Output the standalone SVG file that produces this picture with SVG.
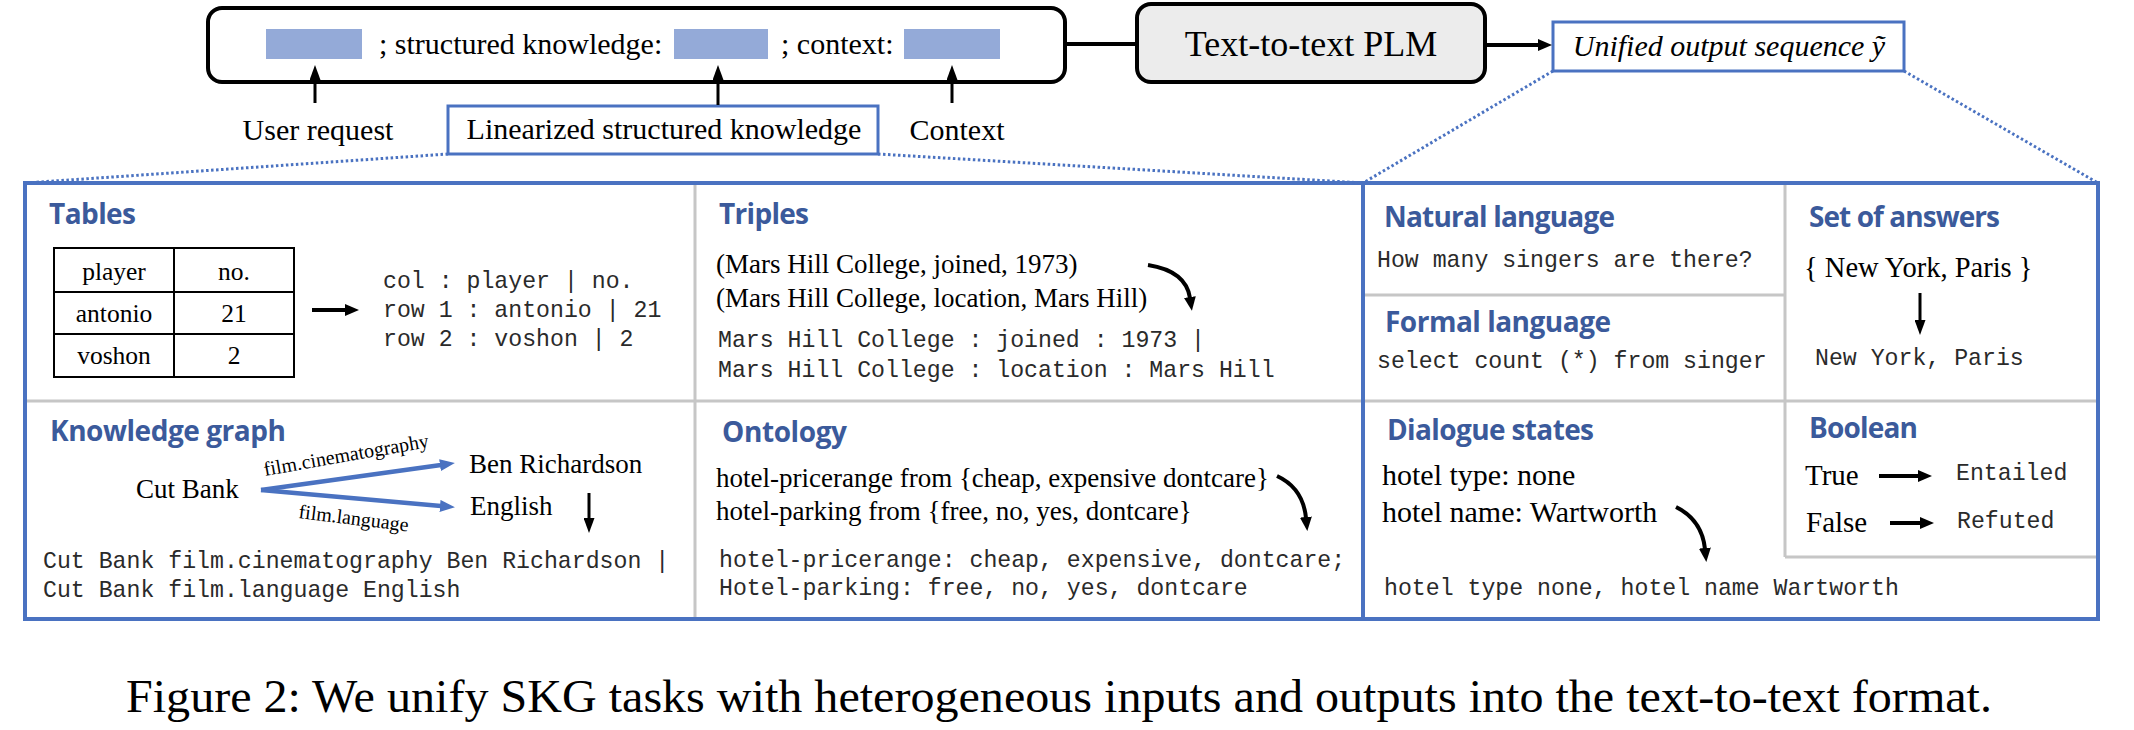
<svg xmlns="http://www.w3.org/2000/svg" width="2134" height="730" viewBox="0 0 2134 730">
<style>
.s{font-family:"Liberation Serif","Times New Roman",serif;fill:#000}
.m{font-family:"Liberation Mono","Courier New",monospace;font-size:23.2px;fill:#2a2a2a}
.h{font-family:"Open Sans","Noto Sans",sans-serif;font-weight:700;font-size:28px;fill:#3b5a9b}
.blk{stroke:#000;stroke-width:4;fill:none}
.thin{stroke:#000;stroke-width:3;fill:none}
.dot{stroke:#4a72c1;stroke-width:3;stroke-dasharray:2.5 2.5;fill:none}
.gray{stroke:#c6c6c6;stroke-width:3;fill:none}
.blue{stroke:#4a72c1;stroke-width:4;fill:none}
.sq{fill:#94aad8}
</style>
<defs>
<marker id="ah" viewBox="0 0 14 12" markerWidth="14" markerHeight="12" refX="1" refY="6" orient="auto" markerUnits="userSpaceOnUse"><path d="M0,0 L14,6 L0,12 z" fill="#000"/></marker>
<marker id="ahs" viewBox="0 0 15 11" markerWidth="15" markerHeight="11" refX="1" refY="5.5" orient="auto" markerUnits="userSpaceOnUse"><path d="M0,0 L15,5.5 L0,11 z" fill="#000"/></marker>
<marker id="ahb" viewBox="0 0 15 12" markerWidth="15" markerHeight="12" refX="1" refY="6" orient="auto" markerUnits="userSpaceOnUse"><path d="M0,0 L15,6 L0,12 z" fill="#4a72c1"/></marker>
</defs>
<rect width="2134" height="730" fill="#fff"/>

<g id="input-template">
<rect x="208" y="8" width="857" height="74" rx="14" fill="#fff" stroke="#000" stroke-width="4"/>
<rect class="sq" x="266" y="29" width="96" height="30"/>
<text class="s" x="379" y="54" font-size="30">; structured knowledge:</text>
<rect class="sq" x="674" y="29" width="94" height="30"/>
<text class="s" x="781" y="54" font-size="30">; context:</text>
<rect class="sq" x="904" y="29" width="96" height="30"/>
</g>

<g id="plm">
<rect x="1137" y="4" width="348" height="78" rx="14" fill="#ececec" stroke="#000" stroke-width="4"/>
<text class="s" x="1311" y="56" font-size="36" text-anchor="middle">Text-to-text PLM</text>
</g>

<g id="unified-output">
<rect x="1553" y="22" width="351" height="49" fill="#fff" stroke="#4a72c1" stroke-width="3"/>
<text class="s" x="1729" y="56" font-size="30" font-style="italic" text-anchor="middle">Unified output sequence ỹ</text>
</g>

<g id="user-request"><text class="s" x="318" y="140" font-size="30" text-anchor="middle">User request</text></g>
<g id="linearized">
<rect x="448" y="106" width="430" height="48" fill="#fff" stroke="#4a72c1" stroke-width="3"/>
<text class="s" x="664" y="139" font-size="30" text-anchor="middle">Linearized structured knowledge</text>
</g>
<g id="context"><text class="s" x="957" y="140" font-size="30" text-anchor="middle">Context</text></g>

<g id="panel">
<rect x="25" y="183" width="2073" height="436" fill="#fff" stroke="#4a72c1" stroke-width="4"/>
<line class="gray" x1="695" y1="185" x2="695" y2="617"/>
<line class="gray" x1="27" y1="401" x2="1361" y2="401"/>
<line class="gray" x1="1785" y1="185" x2="1785" y2="557"/>
<line class="gray" x1="1365" y1="295" x2="1785" y2="295"/>
<line class="gray" x1="1365" y1="401" x2="2096" y2="401"/>
<line class="gray" x1="1785" y1="557" x2="2096" y2="557"/>
<line class="blue" x1="1363" y1="183" x2="1363" y2="619"/>
</g>

<g id="tables">
<text class="h" x="49" y="224" textLength="87">Tables</text>
<rect x="54" y="248" width="240" height="129" fill="none" stroke="#000" stroke-width="2"/>
<line x1="174" y1="248" x2="174" y2="377" stroke="#000" stroke-width="2"/>
<line x1="54" y1="292" x2="294" y2="292" stroke="#000" stroke-width="2"/>
<line x1="54" y1="334" x2="294" y2="334" stroke="#000" stroke-width="2"/>
<text class="s" font-size="25.5" text-anchor="middle"><tspan x="114" y="280">player</tspan><tspan x="234" y="280">no.</tspan><tspan x="114" y="322">antonio</tspan><tspan x="234" y="322">21</tspan><tspan x="114" y="364">voshon</tspan><tspan x="234" y="364">2</tspan></text>
<text class="m"><tspan x="383" y="288">col : player | no.</tspan><tspan x="383" y="317">row 1 : antonio | 21</tspan><tspan x="383" y="346">row 2 : voshon | 2</tspan></text>
</g>

<g id="triples">
<text class="h" x="719" y="224" textLength="90">Triples</text>
<text class="s" font-size="27"><tspan x="716" y="273">(Mars Hill College, joined, 1973)</tspan><tspan x="716" y="307">(Mars Hill College, location, Mars Hill)</tspan></text>
<text class="m"><tspan x="718" y="347">Mars Hill College : joined : 1973 |</tspan><tspan x="718" y="377">Mars Hill College : location : Mars Hill</tspan></text>
</g>

<g id="knowledge-graph">
<text class="h" x="50" y="441" textLength="236">Knowledge graph</text>
<text class="s" x="136" y="498" font-size="27">Cut Bank</text>
<text class="s" x="265" y="476" font-size="20" transform="rotate(-10 265 476)">film.cinematography</text>
<text class="s" x="298" y="518" font-size="20" transform="rotate(7 298 518)">film.language</text>
<text class="s" x="469" y="473" font-size="27">Ben Richardson</text>
<text class="s" x="470" y="515" font-size="27">English</text>
<text class="m"><tspan x="43" y="568">Cut Bank film.cinematography Ben Richardson |</tspan><tspan x="43" y="597">Cut Bank film.language English</tspan></text>
</g>

<g id="ontology">
<text class="h" x="722" y="442" textLength="125">Ontology</text>
<text class="s" font-size="27"><tspan x="716" y="487">hotel-pricerange from {cheap, expensive dontcare}</tspan><tspan x="716" y="520">hotel-parking from {free, no, yes, dontcare}</tspan></text>
<text class="m"><tspan x="719" y="567">hotel-pricerange: cheap, expensive, dontcare;</tspan><tspan x="719" y="595">Hotel-parking: free, no, yes, dontcare</tspan></text>
</g>

<g id="natural-language">
<text class="h" x="1384" y="227" textLength="231">Natural language</text>
<text class="m" x="1377" y="267">How many singers are there?</text>
</g>

<g id="formal-language">
<text class="h" x="1385" y="332" textLength="226">Formal language</text>
<text class="m" x="1377" y="368">select count (*) from singer</text>
</g>

<g id="set-of-answers">
<text class="h" x="1809" y="227" textLength="191">Set of answers</text>
<text class="s" x="1804" y="277" font-size="28.5">{ New York, Paris }</text>
<text class="m" x="1815" y="365">New York, Paris</text>
</g>

<g id="dialogue-states">
<text class="h" x="1387" y="440" textLength="207">Dialogue states</text>
<text class="s" font-size="30"><tspan x="1382" y="485">hotel type: none</tspan><tspan x="1382" y="522">hotel name: Wartworth</tspan></text>
<text class="m" x="1384" y="595">hotel type none, hotel name Wartworth</text>
</g>

<g id="boolean">
<text class="h" x="1809" y="438" textLength="109">Boolean</text>
<text class="s" x="1805" y="485" font-size="29">True</text>
<text class="s" x="1806" y="532" font-size="29">False</text>
<text class="m" x="1956" y="480">Entailed</text>
<text class="m" x="1957" y="528">Refuted</text>
</g>

<g id="caption">
<text class="s" x="126" y="712" font-size="47" textLength="1866" lengthAdjust="spacingAndGlyphs">Figure 2: We unify SKG tasks with heterogeneous inputs and outputs into the text-to-text format.</text>
</g>

<g id="connectors">
<line class="thin" x1="315" y1="103" x2="315" y2="79" marker-end="url(#ahs)"/>
<line class="thin" x1="718" y1="105" x2="718" y2="79" marker-end="url(#ahs)"/>
<line class="thin" x1="952" y1="103" x2="952" y2="79" marker-end="url(#ahs)"/>
<line class="blk" x1="1065" y1="44" x2="1137" y2="44"/>
<line class="blk" x1="1485" y1="45" x2="1539" y2="45" marker-end="url(#ah)"/>
<line class="dot" x1="448" y1="154" x2="25" y2="183"/>
<line class="dot" x1="878" y1="154" x2="1363" y2="183"/>
<line class="dot" x1="1553" y1="71" x2="1363" y2="183"/>
<line class="dot" x1="1904" y1="71" x2="2098" y2="183"/>
<line class="blk" x1="312" y1="310" x2="346" y2="310" marker-end="url(#ah)"/>
<line x1="261" y1="490" x2="441" y2="465" stroke="#4a72c1" stroke-width="4.5" marker-end="url(#ahb)"/>
<line x1="261" y1="490" x2="441" y2="506" stroke="#4a72c1" stroke-width="4.5" marker-end="url(#ahb)"/>
<line class="thin" x1="589" y1="493" x2="589" y2="519" marker-end="url(#ahs)"/>
<path class="blk" d="M1148,265 Q1186,271 1190,298" marker-end="url(#ah)"/>
<path class="blk" d="M1277,476 Q1303,488 1306,518" marker-end="url(#ah)"/>
<path class="blk" d="M1676,507 Q1702,520 1705,549" marker-end="url(#ah)"/>
<line class="thin" x1="1920" y1="293" x2="1920" y2="321" marker-end="url(#ahs)"/>
<line class="blk" x1="1879" y1="476" x2="1919" y2="476" marker-end="url(#ah)"/>
<line class="blk" x1="1890" y1="523" x2="1921" y2="523" marker-end="url(#ah)"/>
</g>
</svg>
